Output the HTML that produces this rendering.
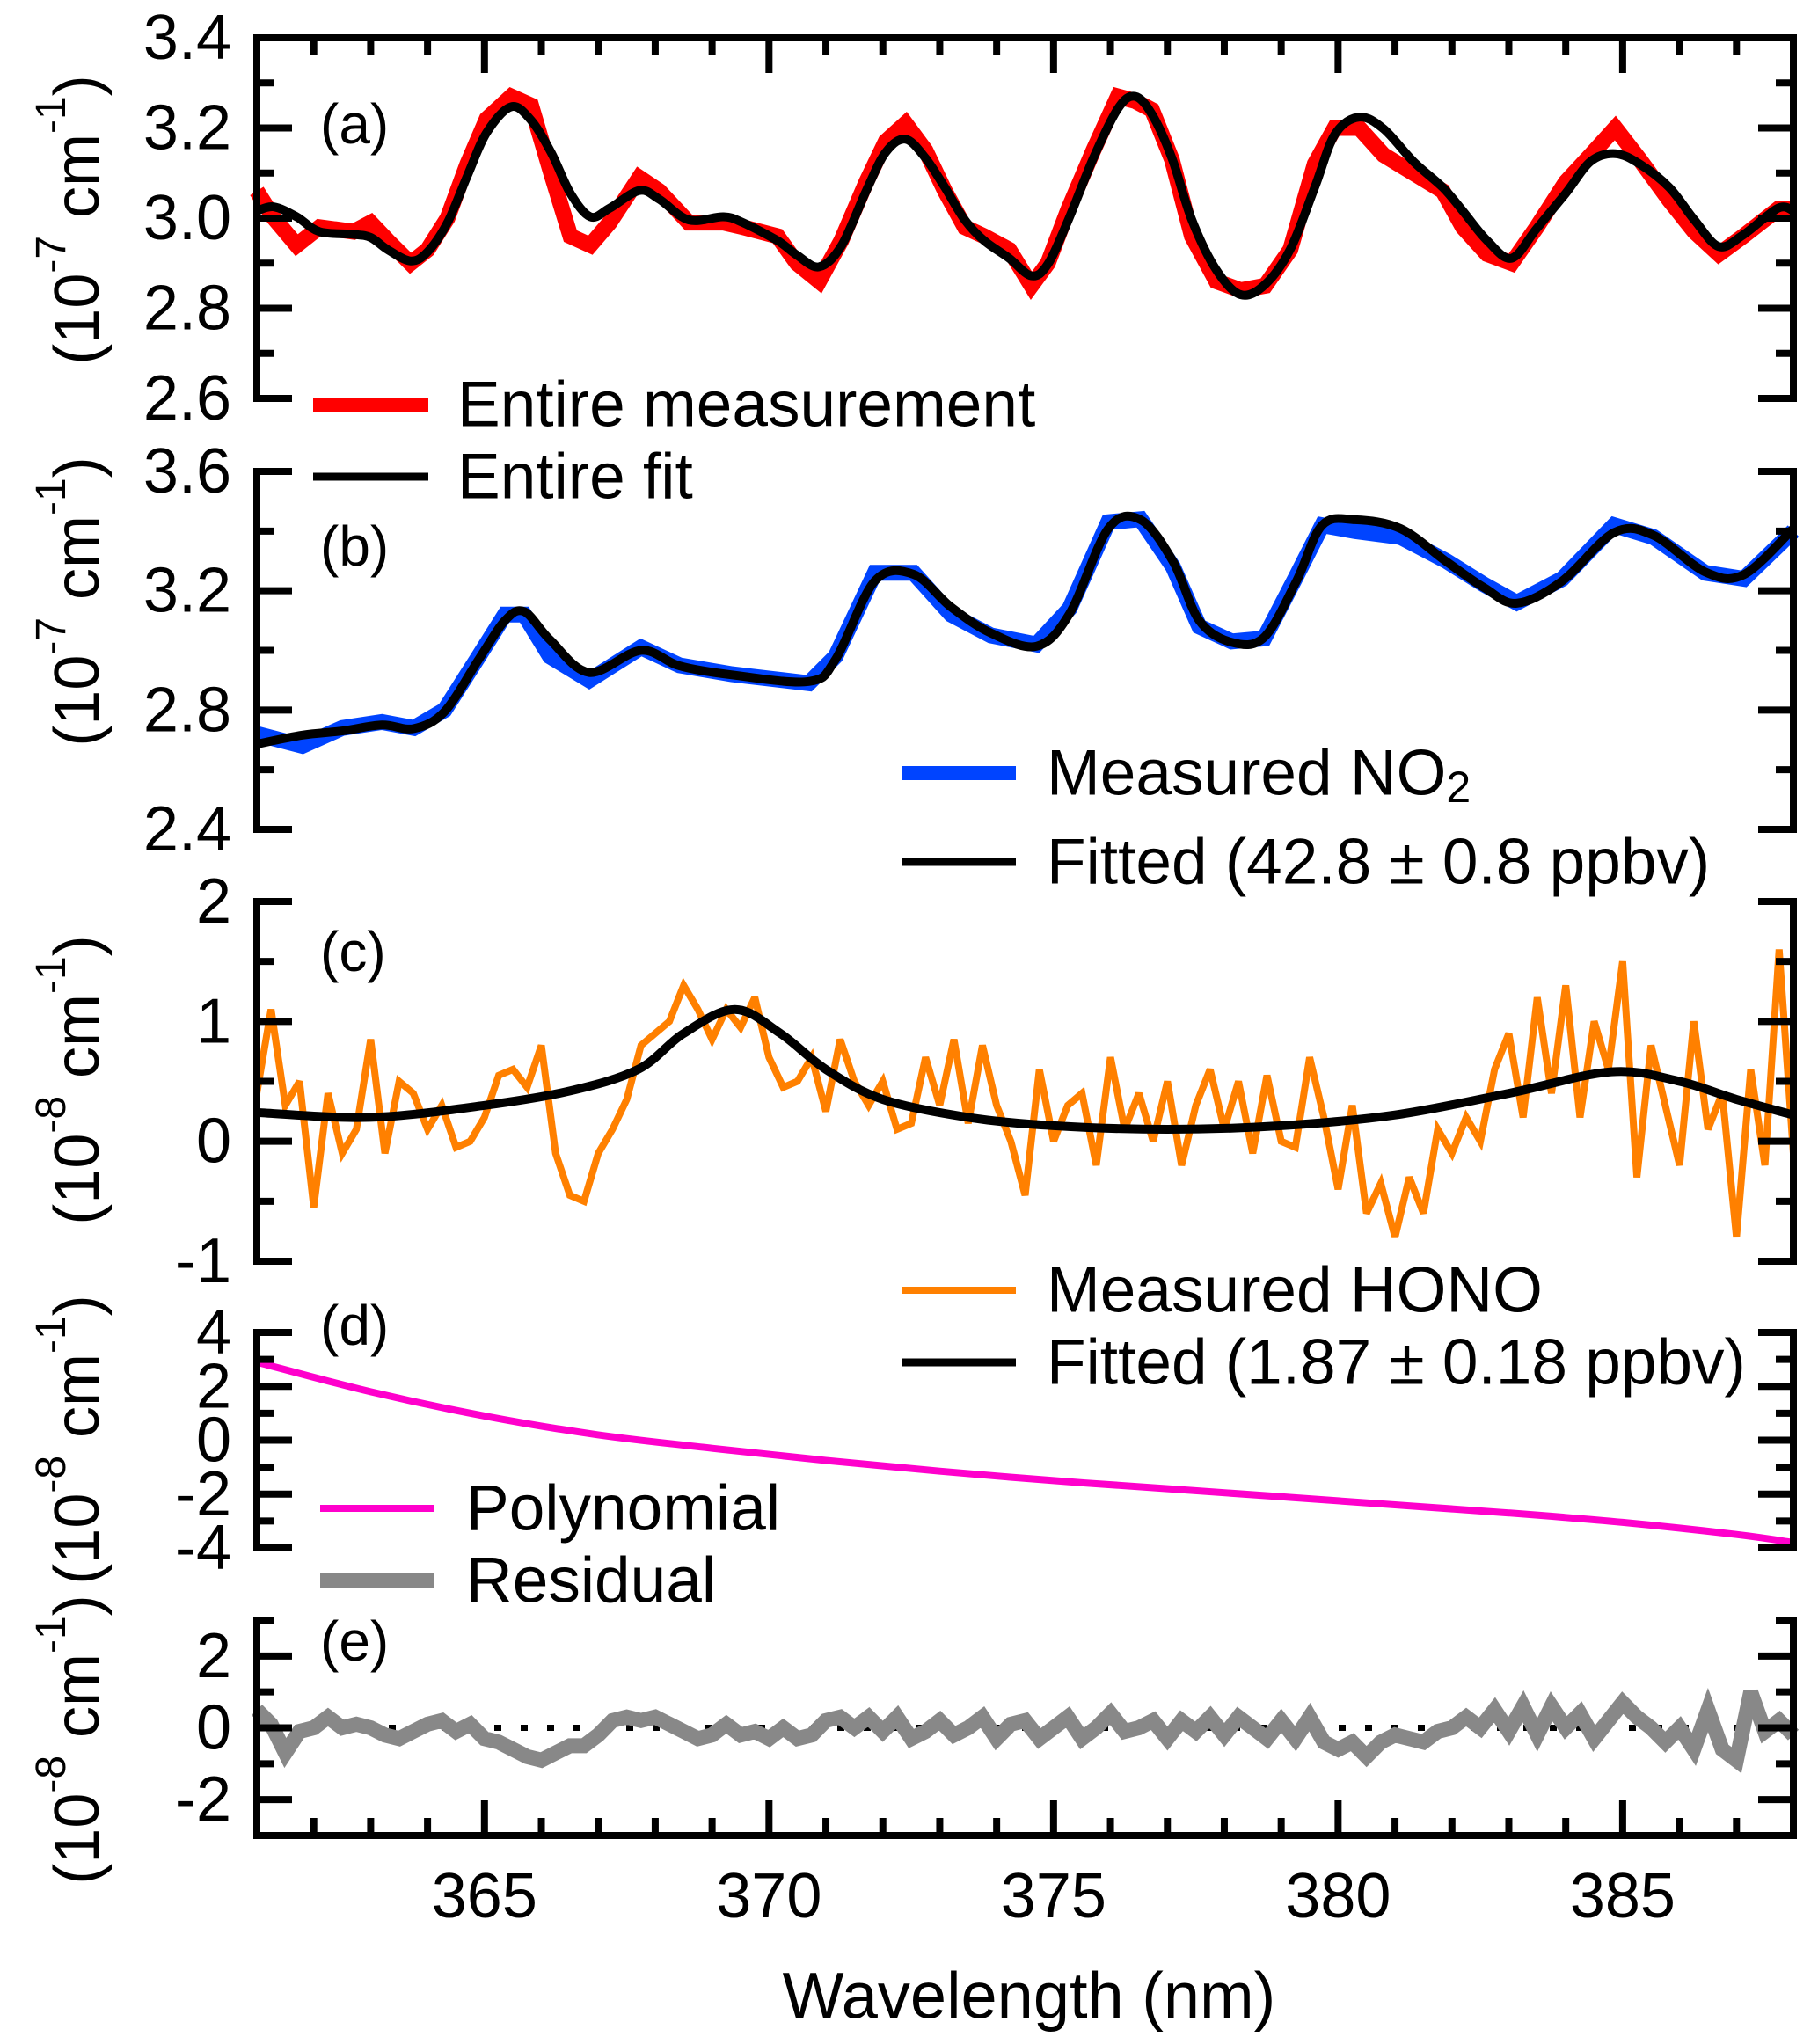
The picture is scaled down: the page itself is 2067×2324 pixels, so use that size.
<!DOCTYPE html>
<html><head><meta charset="utf-8"><style>
html,body{margin:0;padding:0;background:#fff;}
svg{display:block;font-family:"Liberation Sans",Arial,sans-serif;}
</style></head><body>
<svg id="chart" width="2067" height="2324" viewBox="0 0 2067 2324" xmlns="http://www.w3.org/2000/svg"></svg>
<script>
// ---------- data ----------
const aFitX=[361.0,361.3,361.7,362.1,362.7,363.0,363.3,363.7,364.0,364.35,364.7,365.04,365.47,365.82,366.17,366.51,366.86,367.2,367.72,368.07,368.59,369.2,369.54,370.15,370.49,370.88,371.27,371.71,372.05,372.4,372.75,373.09,373.44,373.78,374.22,374.61,374.9,375.26,375.7,376.13,376.43,376.73,377.08,377.43,377.86,378.29,378.72,379.16,379.59,379.94,380.37,380.8,381.32,381.84,382.19,382.62,383.05,383.49,384.0,384.44,384.87,385.3,385.82,386.26,386.69,387.12,387.73,388.0];
const aFitY=[3.016,3.025,3.003,2.97,2.964,2.957,2.93,2.905,2.925,2.99,3.094,3.19,3.247,3.217,3.146,3.055,3.003,3.022,3.061,3.042,2.996,3.003,2.99,2.95,2.918,2.892,2.938,3.061,3.146,3.175,3.133,3.068,2.996,2.95,2.911,2.872,2.898,2.996,3.133,3.243,3.27,3.23,3.133,2.996,2.885,2.83,2.853,2.931,3.068,3.185,3.224,3.198,3.126,3.068,3.016,2.95,2.911,2.977,3.055,3.126,3.143,3.12,3.068,2.996,2.937,2.963,3.022,3.016];
const aMeasY=[3.06,3.0,2.94,2.98,2.97,2.99,2.95,2.9,2.93,3.0,3.12,3.22,3.27,3.25,3.1,2.96,2.94,2.99,3.09,3.06,2.99,2.99,2.98,2.96,2.9,2.86,2.95,3.08,3.17,3.21,3.15,3.06,2.98,2.96,2.93,2.85,2.9,3.02,3.15,3.27,3.26,3.24,3.13,2.96,2.86,2.84,2.85,2.93,3.12,3.2,3.2,3.14,3.1,3.06,2.98,2.92,2.9,2.98,3.08,3.14,3.2,3.13,3.04,2.97,2.92,2.96,3.02,3.02];
const bFitX=[361,361.8,362.5,363.2,363.76,364.3,364.9,365.36,365.7,366.15,366.84,367.75,368.43,369.35,370.7,371.17,371.86,372.54,373.2,373.9,374.7,375.28,375.96,376.53,377.1,377.56,378.13,378.7,379.27,379.72,380.3,381.1,381.9,382.57,383.14,383.94,384.85,385.54,386.45,387.13,388];
const bFitY=[2.686,2.716,2.73,2.75,2.738,2.795,2.97,3.1,3.13,3.036,2.926,3.0,2.948,2.918,2.896,2.97,3.233,3.255,3.145,3.058,3.014,3.123,3.408,3.438,3.298,3.1,3.027,3.044,3.233,3.42,3.438,3.408,3.298,3.21,3.158,3.233,3.395,3.386,3.263,3.254,3.408];
const bMeasY=[2.72,2.68,2.74,2.76,2.74,2.8,2.98,3.12,3.12,2.98,2.9,3.01,2.95,2.92,2.89,2.98,3.26,3.26,3.12,3.05,3.02,3.14,3.43,3.44,3.28,3.08,3.03,3.04,3.25,3.42,3.40,3.38,3.30,3.22,3.16,3.24,3.42,3.38,3.26,3.24,3.40];
const cFitX=[361,363,365,366.5,367.7,368.5,369.4,370.2,371,372,373.5,375,377,379,381,383,384.8,386,387,388];
const cFitY=[0.24,0.2,0.3,0.42,0.6,0.9,1.1,0.9,0.6,0.35,0.2,0.13,0.1,0.13,0.22,0.4,0.58,0.5,0.35,0.22];
const cMeasY=[0.4,1.1,0.3,0.5,-0.55,0.4,-0.1,0.1,0.85,-0.1,0.5,0.4,0.1,0.3,-0.05,0.0,0.2,0.55,0.6,0.45,0.8,-0.1,-0.45,-0.5,-0.1,0.1,0.35,0.8,0.9,1.0,1.3,1.1,0.85,1.1,0.95,1.2,0.7,0.45,0.5,0.7,0.25,0.85,0.5,0.3,0.5,0.1,0.15,0.7,0.3,0.85,0.15,0.8,0.3,0.0,-0.45,0.6,0.0,0.3,0.4,-0.2,0.7,0.1,0.4,0.0,0.5,-0.2,0.3,0.6,0.1,0.5,-0.1,0.55,0.0,-0.05,0.7,0.2,-0.4,0.3,-0.6,-0.35,-0.8,-0.3,-0.6,0.1,-0.1,0.2,0.0,0.6,0.9,0.2,1.2,0.4,1.3,0.2,1.0,0.6,1.5,-0.3,0.8,0.3,-0.2,1.0,0.1,0.4,-0.8,0.6,-0.2,1.6,-0.1];
const dPolyX=[361,363,365,367,369,371,373,375,377,379,381,383,385,387,388];
const dPolyY=[2.9,1.8,0.9,0.2,-0.3,-0.75,-1.15,-1.5,-1.8,-2.1,-2.4,-2.7,-3.05,-3.5,-3.8];
const eResY=[0.5,0.1,-0.7,-0.1,0.0,0.3,0.0,0.1,0.0,-0.2,-0.3,-0.1,0.1,0.2,-0.1,0.1,-0.3,-0.4,-0.6,-0.8,-0.9,-0.7,-0.5,-0.5,-0.2,0.2,0.3,0.2,0.3,0.1,-0.1,-0.3,-0.2,0.1,-0.2,-0.1,-0.3,0.0,-0.3,-0.2,0.2,0.3,0.0,0.3,-0.1,0.3,-0.3,-0.1,0.2,-0.2,0.0,0.3,-0.3,0.1,0.2,-0.3,0.0,0.3,-0.3,0.0,0.4,-0.1,0.0,0.2,-0.3,0.2,-0.1,0.3,-0.2,0.3,0.0,-0.3,0.2,-0.3,0.3,-0.4,-0.6,-0.4,-0.8,-0.4,-0.2,-0.3,-0.4,-0.1,0.0,0.3,0.0,0.5,-0.1,0.6,-0.2,0.6,0.0,0.4,-0.3,0.2,0.7,0.3,0.0,-0.4,0.0,-0.6,0.5,-0.6,-0.9,1.0,-0.1,0.2,-0.2];
const xTickLabels=[365,370,375,380,385];

// ---------- layout ----------
const svg=document.getElementById('chart');
const NS='http://www.w3.org/2000/svg';
const X0=292,X1=2039,XMIN=361,XMAX=388;
const sx=v=>X0+(v-XMIN)*(X1-X0)/(XMAX-XMIN);
function mk(tag,attrs,parent){const e=document.createElementNS(NS,tag);for(const k in attrs)e.setAttribute(k,attrs[k]);(parent||svg).appendChild(e);return e;}
const step=n=>Array.from({length:n},(_,i)=>361+i*0.25);

const panels=[
 {id:'a',top:43,bot:453,vmax:3.4,vmin:2.6,tick:0.1,major:0.2,labels:['3.4','3.2','3.0','2.8','2.6'],labelVals:[3.4,3.2,3.0,2.8,2.6],exp:'-7',tc:250,ly:141},
 {id:'b',top:536,bot:943,vmax:3.6,vmin:2.4,tick:0.2,major:0.4,labels:['3.6','3.2','2.8','2.4'],labelVals:[3.6,3.2,2.8,2.4],exp:'-7',tc:684,ly:621},
 {id:'c',top:1025,bot:1434,vmax:2,vmin:-1,tick:0.5,major:1,labels:['2','1','0','-1'],labelVals:[2,1,0,-1],exp:'-8',tc:1228,ly:1082},
 {id:'d',top:1515,bot:1760,vmax:4,vmin:-4,tick:1,major:2,labels:['4','2','0','-2','-4'],labelVals:[4,2,0,-2,-4],exp:'-8',tc:1637,ly:1507},
 {id:'e',top:1842,bot:2087,vmax:3,vmin:-3,tick:1,major:2,labels:['2','0','-2'],labelVals:[2,0,-2],exp:'-8',tc:1978,ly:1866}
];
panels.forEach(p=>{p.sy=v=>p.top+(p.vmax-v)*(p.bot-p.top)/(p.vmax-p.vmin);});
const P={};panels.forEach(p=>P[p.id]=p);

function pathD(xs,ys,p,smooth){
  const pts=xs.map((x,i)=>[sx(x),p.sy(ys[i])]);
  if(!smooth) return pts.map((q,i)=>(i?'L':'M')+q[0].toFixed(1)+','+q[1].toFixed(1)).join('');
  let d='M'+pts[0][0].toFixed(1)+','+pts[0][1].toFixed(1);
  for(let i=0;i<pts.length-1;i++){
    const p0=pts[Math.max(0,i-1)],p1=pts[i],p2=pts[i+1],p3=pts[Math.min(pts.length-1,i+2)];
    const c1=[p1[0]+(p2[0]-p0[0])/6,p1[1]+(p2[1]-p0[1])/6],c2=[p2[0]-(p3[0]-p1[0])/6,p2[1]-(p3[1]-p1[1])/6];
    d+='C'+c1.map(v=>v.toFixed(1)).join(',')+' '+c2.map(v=>v.toFixed(1)).join(',')+' '+p2[0].toFixed(1)+','+p2[1].toFixed(1);
  }
  return d;
}
function series(xs,ys,p,color,w,name,smooth,parent){
  const el=mk('path',{d:pathD(xs,ys,p,smooth),fill:'none',stroke:color,'stroke-width':w,'stroke-linejoin':'miter','stroke-miterlimit':3},parent);
  
  
  return el;
}

// series
series(aFitX,aMeasY,P.a,'#ff0000',18,'entire-measurement-line',false);
series(aFitX,aFitY,P.a,'#000',10,'entire-fit-line',true);
series(bFitX,bMeasY,P.b,'#0044ff',18,'measured-no2-line',false);
series(bFitX,bFitY,P.b,'#000',10,'fitted-no2-line',true);
series(step(cMeasY.length),cMeasY,P.c,'#ff8000',8,'measured-hono-line',false);
series(cFitX,cFitY,P.c,'#000',10,'fitted-hono-line',true);
series(dPolyX,dPolyY,P.d,'#ff00cc',8,'polynomial-line',true);
const zl=mk('line',{x1:X0,x2:X1,y1:P.e.sy(0),y2:P.e.sy(0),stroke:'#000','stroke-width':7,'stroke-dasharray':'8 22'});


series(step(eResY.length),eResY,P.e,'#888888',17,'residual-line',false);

// axes
panels.forEach(p=>{
  const g=mk('g',{});
  
  
  mk('line',{x1:X0,x2:X0,y1:p.top-4,y2:p.bot+4,stroke:'#000','stroke-width':8},g);
  mk('line',{x1:X1,x2:X1,y1:p.top-4,y2:p.bot+4,stroke:'#000','stroke-width':8},g);
  const n=Math.round((p.vmax-p.vmin)/p.tick);
  for(let i=0;i<=n;i++){
    const v=p.vmin+i*p.tick;const y=p.sy(v);
    const isMaj=Math.abs(Math.round(v/p.major)*p.major-v)<1e-6;
    const L=isMaj?40:20;
    mk('line',{x1:X0,x2:X0+L,y1:y,y2:y,stroke:'#000','stroke-width':8},g);
    mk('line',{x1:X1,x2:X1-L,y1:y,y2:y,stroke:'#000','stroke-width':8},g);
  }
  p.labels.forEach((t,i)=>{const tx=mk('text',{x:263,y:p.sy(p.labelVals[i]),'text-anchor':'end','dominant-baseline':'central','font-size':72},g);tx.textContent=t;
    
    });
  const tt=mk('text',{transform:`translate(88,${p.tc}) rotate(-90)`,'text-anchor':'middle','dominant-baseline':'central','font-size':72},g);
  
  
  tt.innerHTML='(10<tspan dy="-30" font-size="48">'+p.exp+'</tspan><tspan dy="30"> cm</tspan><tspan dy="-30" font-size="48">-1</tspan><tspan dy="30">)</tspan>';
  const pl=mk('text',{x:364,y:p.ly,'dominant-baseline':'central','font-size':64},g);
  
  
  pl.textContent='('+p.id+')';
});
// x axes
const gx=mk('g',{});


mk('line',{x1:X0-4,x2:X1+4,y1:P.e.bot,y2:P.e.bot,stroke:'#000','stroke-width':8},gx);
mk('line',{x1:X0-4,x2:X1+4,y1:P.a.top,y2:P.a.top,stroke:'#000','stroke-width':8},gx);
for(let v=362;v<=387;v++){
  const L=(v%5===0)?40:20;const x=sx(v);
  mk('line',{x1:x,x2:x,y1:P.e.bot,y2:P.e.bot-L,stroke:'#000','stroke-width':8},gx);
  mk('line',{x1:x,x2:x,y1:P.a.top,y2:P.a.top+L,stroke:'#000','stroke-width':8},gx);
}
xTickLabels.forEach(v=>{const t=mk('text',{x:sx(v),y:2156,'text-anchor':'middle','dominant-baseline':'central','font-size':72},gx);t.textContent=v;
  
  });
const xt=mk('text',{x:1170,y:2269,'text-anchor':'middle','dominant-baseline':'central','font-size':74});


xt.textContent='Wavelength (nm)';

// legends
const legends=[
 {x1:356,x2:487,tx:520,y:460,c:'#ff0000',w:16,t:'Entire measurement',n:'legend-entire-measurement'},
 {x1:356,x2:487,tx:520,y:542,c:'#000',w:9,t:'Entire fit',n:'legend-entire-fit'},
 {x1:1025,x2:1155,tx:1190,y:879,c:'#0044ff',w:16,t:'Measured NO<tspan font-size="50" dy="16">2</tspan>',n:'legend-measured-no2'},
 {x1:1025,x2:1155,tx:1190,y:980,c:'#000',w:9,t:'Fitted (42.8 ± 0.8 ppbv)',n:'legend-fitted-no2'},
 {x1:1025,x2:1155,tx:1190,y:1467,c:'#ff8000',w:8,t:'Measured HONO',n:'legend-measured-hono'},
 {x1:1025,x2:1155,tx:1190,y:1549,c:'#000',w:9,t:'Fitted (1.87 ± 0.18 ppbv)',n:'legend-fitted-hono'},
 {x1:364,x2:494,tx:530,y:1715,c:'#ff00cc',w:8,t:'Polynomial',n:'legend-polynomial'},
 {x1:364,x2:494,tx:530,y:1797,c:'#888888',w:16,t:'Residual',n:'legend-residual'}
];
legends.forEach(l=>{
  const g=mk('g',{});
  
  
  mk('line',{x1:l.x1,x2:l.x2,y1:l.y,y2:l.y,stroke:l.c,'stroke-width':l.w},g);
  const t=mk('text',{x:l.tx,y:l.y,'dominant-baseline':'central','font-size':73},g);
  t.innerHTML=l.t;
});
</script>
</body></html>
